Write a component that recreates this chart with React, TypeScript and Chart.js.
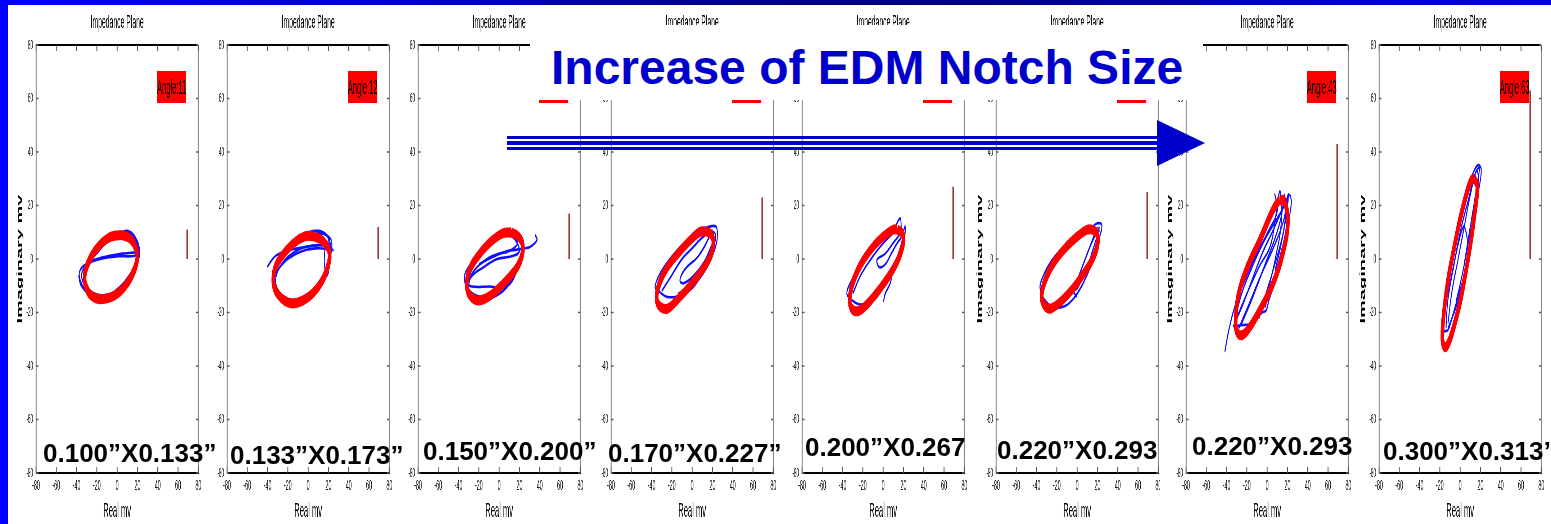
import React, { useEffect, useRef } from 'react';
import { Chart, registerables } from 'chart.js';

Chart.register(...registerables);

const FONT = '"Liberation Sans", Arial, Helvetica, sans-serif';
Chart.defaults.font.family = FONT;

// ---------------- data ----------------
const PANEL_TITLE = 'Impedance Plane';
const X_AXIS_TITLE = 'Real mv';
const Y_AXIS_TITLE = 'Imaginary mv';
const HEADLINE = 'Increase of EDM Notch Size';
const AXIS_MIN = -80;
const AXIS_MAX = 80;
const TICK_STEP = 20;

const ANGLES = [11, 12, 17, 23, 27, 25, 43, 63];
const NOTCH_LABELS = [
  '0.100”X0.133”',
  '0.133”X0.173”',
  '0.150”X0.200”',
  '0.170”X0.227”',
  '0.200”X0.267',
  '0.220”X0.293',
  '0.220”X0.293',
  '0.300”X0.313”',
];
const ANGLE_BOX_X = [39.5, 68];
const ANGLE_BOX_Y = [58.3, 70.3];
const ANGLE_BAR_X = 69;

type Pt = [number, number];

const ELLIPSE_1: Pt[] = [[4, 9], [13, 7.5], [18, 4.5], [20, 1], [17, -4], [9, -9.5], [-2, -13.5], [-16, -15], [-26, -13.5], [-31, -10], [-32, -6], [-28, -1], [-20, 4], [-8, 8], [4, 9]];
const TRACES_1: Pt[][] = [
  [[-2, 9.8], [8, 10], [14.5, 9], [21, 4.6], [22, 1.1], [16, -4.1], [3, -10.3], [-13.5, -14.1], [-30, -12.2], [-36.5, -7.9], [-37, -4.7], [-31.6, -2.2], [-16.8, 0], [0, 1], [16, 1.1], [21, 2]],
  [[-6, 8.5], [4, 10], [15, 8.5], [20, 4], [19, -1], [12, -6], [0, -12], [-14, -15], [-26, -13], [-32, -8], [-28, -2], [-18, 3], [-6, 8.5]],
  [[0, 9], [10, 10.5], [18, 8], [22, 3], [18, -3], [5, -10], [-12, -13.5], [-28, -11.5], [-35, -6.5], [-30, -2], [-15, 0.5], [5, 2], [20, 2.5]],
  [[-38, -6], [-36, -9.5], [-28, -13], [-14, -15], [2, -12], [14, -5], [21, 1], [20, 6], [12, 9.5], [0, 9.5], [-10, 7], [-20, 3]],
];

const ELLIPSE_2: Pt[] = [[6, 8.5], [15, 6.5], [21, 2.5], [20, -2], [14, -8], [4, -13], [-8, -16], [-18, -16.5], [-28, -14], [-34, -9.5], [-33, -4], [-26, 1], [-14, 6], [-3, 8.5], [6, 8.5]];
const TRACES_2: Pt[][] = [
  [[-40.2, -2.9], [-35, 0], [-30.9, 1.5], [-17.8, 3.4], [-1.3, 4.6], [18.5, 5.2], [25, 3.1]],
  [[-3, 8.3], [11.9, 9.6], [21.8, 7.7], [23.4, 4.6], [20.1, -1.6], [11.9, -10.3], [-4.6, -15.3], [-17.8, -16.3], [-30.9, -12.8], [-33.6, -7.9], [-27.6, -2.9], [-11.1, 2.1], [8.6, 4], [23.4, 3.4]],
  [[-4, 9.5], [10, 10.5], [20, 8], [22, 3], [18, -4], [8, -11], [-8, -15], [-24, -14], [-32, -9], [-28, -3], [-12, 3], [5, 5], [22, 5]],
  [[-20, 4], [-6, 7.5], [8, 9], [19, 8.5], [21, 0], [19, -6], [16, -2], [17, 6]],
];

const ELLIPSE_3: Pt[] = [[12, 10], [20, 8], [23.5, 4.5], [21, -0.5], [14, -5], [2, -10], [-10, -14], [-21, -15.5], [-29, -13.5], [-32, -9.5], [-29, -4], [-20, 1.5], [-8, 6.5], [3, 9.5], [12, 10]];
const TRACES_3: Pt[][] = [
  [[6, 10.6], [17.5, 9.6], [24, 5.9], [20, -1], [14, -6.6], [1, -12.8], [-18.7, -14.1], [-31, -11], [-34.3, -7.2], [-31.9, -4.1], [-22, 1], [-8, 6], [6, 10.6]],
  [[-4, 8], [10, 9], [18, 6], [10, 3], [0, 2], [-12, 0], [-24, -4], [-31, -9], [-27, -10.3], [-10, -10.3], [7.6, -10.3], [18, -4], [22, 3]],
  [[-20, -2], [-5, 1], [8, 3], [15.8, 3.4], [25, 4], [30.7, 4.6], [37.3, 7.1], [35.6, 9]],
  [[2, 9], [14, 8], [20, 3], [12, 1], [-2, 0], [-15, -3], [-28, -7], [-30, -12], [-18, -15], [0, -13], [14, -7], [22, 0]],
];

const ELLIPSE_4: Pt[] = [[13, 10.5], [19, 9], [21, 6], [18, 1], [10, -4], [-2, -10], [-14, -15], [-24, -18.5], [-31, -18], [-35, -15], [-33, -10], [-26, -4], [-14, 2], [-2, 7], [7, 10], [13, 10.5]];
const TRACES_4: Pt[][] = [
  [[8, 10.8], [19.5, 12.3], [24.4, 11.5], [24, 6], [16, -2], [6, -8], [-2, -11.6], [-15, -14], [-25, -14.1], [-33, -12], [-36.5, -10.3], [-31.6, -5.4], [-22, 0], [-8, 6], [8, 10.8]],
  [[20, 11], [14, 6], [6, 1], [-7.6, -4.1], [-12, -8], [-8, -9], [2, -6], [12, -1], [18, 4], [22, 8]],
  [[-30, -12], [-20, -6], [-10, 0], [0, 4], [10, 8], [18, 10], [23, 9], [20, 3], [10, -4], [-2, -10], [-14, -13]],
];

const ELLIPSE_5: Pt[] = [[14, 11], [19, 9.5], [20, 6.5], [16, 1], [8, -5], [-4, -11.5], [-16, -17], [-25, -19.5], [-31, -18.5], [-33, -15], [-30, -9], [-22, -2], [-10, 4.5], [2, 9], [10, 11], [14, 11]];
const TRACES_5: Pt[][] = [
  [[10, 10], [16.8, 15.2], [18.5, 9.6], [21.8, 12.1], [20, 6], [12, -2], [2, -9], [-10, -15], [-22, -17], [-32, -15], [-35.8, -12.8], [-32.6, -9.1], [-24, -3], [-12, 3], [0, 8], [10, 10]],
  [[18, 10], [10, 6], [2, 2], [-6.2, -0.4], [-4, -3], [2, -2], [8, 2], [14, 6], [18, 8]],
  [[20, 8], [15, 2], [10, -4], [6.9, -9.1], [2, -13], [0.3, -16]],
  [[-30, -13], [-22, -6], [-12, 0], [-2, 5], [8, 9], [16, 11], [19, 8], [14, 0], [4, -8], [-8, -15], [-20, -17]],
];

const ELLIPSE_6: Pt[] = [[15, 11], [19.5, 9.5], [20.5, 6.5], [17, 1.5], [9, -4], [-3, -10.5], [-15, -15.5], [-26, -18.5], [-32, -17.5], [-35, -14], [-32, -8.5], [-24, -2], [-12, 4], [2, 9], [10, 11], [15, 11]];
const TRACES_6: Pt[][] = [
  [[15, 12], [19.5, 13.3], [24.4, 12.7], [22, 8], [15, -1], [6, -9], [-4, -15], [-15, -18], [-28, -17], [-36.5, -11], [-33, -6], [-24, 0], [-12, 5], [2, 10], [15, 12]],
  [[22, 11], [16, 4], [10, -3], [4, -8], [0, -11], [-3.6, -12.2], [-0.3, -14.1]],
  [[20, 12], [14, 6], [8, 0], [2, -6], [-2, -10], [0, -8], [6, -2], [12, 4], [18, 9], [22, 12]],
];

const ELLIPSE_7: Pt[] = [[12, 22], [17, 21.5], [20.5, 14], [16, 3], [6, -9], [-7, -19], [-18, -26], [-25, -28.5], [-30, -27], [-31, -23], [-28.6, -14], [-20.4, -4], [-7.3, 7], [5.7, 18.3], [12, 22]];
const TRACES_7: Pt[][] = [
  [[-33.5, -25.3], [-25, -18], [-15, -8], [-5, 2], [5, 10], [12, 16], [18, 21], [22.1, 23.9], [23.8, 20.8], [18, 8], [10, -6], [2, -15], [-0.8, -19.1], [-5, -20], [-15, -24], [-23.7, -24.7], [-30, -25]],
  [[-30, -22], [-20, -13], [-8, -3], [4, 6], [12.3, 25.2], [14, 14], [8, 0], [2, -10], [-3, -17]],
  [[-41.7, -34.7], [-38, -27], [-32, -18], [-22, -8], [-10, 2], [2, 11], [10, 18], [7.4, 24.6]],
  [[-28, -26], [-18, -17], [-6, -6], [6, 4], [16, 14], [20, 22], [19, 12], [12, 0], [4, -10], [-2, -18]],
  [[-32, -24], [-26, -14], [-16, -4], [-4, 6], [8, 14], [17, 20], [21, 24], [16, 10], [6, -4], [-2, -14], [-8, -22]],
  [[-26, -25], [-14, -14], [-2, -2], [8, 8], [14, 16], [17, 24], [18, 16], [14, 6], [8, -4]],
];

const ELLIPSE_8: Pt[] = [[14, 30], [17, 27], [14, 16], [10, 5], [5, -6], [0, -16], [-6, -25], [-11, -31], [-15, -33], [-17.5, -30], [-16, -20], [-12, -8], [-6, 4], [0, 15], [6, 24], [11, 29.5], [14, 30]];
const TRACES_8: Pt[][] = [
  [[-18.4, -23.4], [-14, -14], [-9, -4], [-4, 6], [2, 16], [8, 26], [12.6, 32], [17.5, 35.1], [20.8, 33.3], [18, 25], [14, 14], [10, 4], [7.7, 0.9], [4, -6], [-2, -14], [-8, -22], [-11.9, -26.5], [-16, -27]],
  [[-16, -20], [-10, -9], [-4, 2], [3, 12], [6.1, 9.6], [7.7, 3], [6, -3], [2, -10], [-4, -18], [-12, -26]],
  [[-14, -26], [-12, -15], [-6, -2], [0, 10], [8, 22], [15, 32], [19, 34], [16, 26], [10, 12], [4, -2]],
  [[-12, -24], [-8, -12], [-2, 0], [4, 12], [10, 24], [16, 33], [18, 30], [14, 18], [8, 6], [2, -6], [-4, -16]],
];

const ELLIPSES = [ELLIPSE_1, ELLIPSE_2, ELLIPSE_3, ELLIPSE_4, ELLIPSE_5, ELLIPSE_6, ELLIPSE_7, ELLIPSE_8];
const TRACES = [TRACES_1, TRACES_2, TRACES_3, TRACES_4, TRACES_5, TRACES_6, TRACES_7, TRACES_8];

// ---------------- layout (page px) ----------------
const PLOT_LEFT = [36, 227, 418, 611, 802, 996, 1186, 1379];
const CLIP_LEFT = [8, 216, 407, 600, 791, 972, 1160, 1355];
const LABEL_LEFT = [43, 230, 423, 608, 805, 997, 1192, 1383];
const LABEL_CAP_TOP = [443, 445, 441, 443, 437, 440, 436, 441];

const S = 0.36; // horizontal squeeze of the panel images
const CANVAS_W = 590;
const CANVAS_H = 519;
const YAXIS_W = 111;
const PLOT_W = 451;
const PAD_R = CANVAS_W - YAXIS_W - PLOT_W;

const framePlugin = {
  id: 'frame',
  afterDraw(chart: any, _args: any, opts: any) {
    const { ctx, chartArea: a, scales } = chart;
    const x = scales.x;
    const y = scales.y;
    ctx.save();
    ctx.strokeStyle = '#000';
    ctx.lineWidth = 2;
    ctx.beginPath();
    ctx.moveTo(a.left, a.top);
    ctx.lineTo(a.right, a.top);
    ctx.stroke();
    ctx.strokeStyle = '#8a8a8a';
    ctx.lineWidth = 2.8;
    ctx.beginPath();
    ctx.moveTo(a.right, a.top);
    ctx.lineTo(a.right, a.bottom);
    ctx.stroke();
    ctx.strokeStyle = '#555';
    ctx.lineWidth = 2.4;
    x.ticks.forEach((t: any) => {
      const px = x.getPixelForValue(t.value);
      ctx.beginPath();
      ctx.moveTo(px, a.top);
      ctx.lineTo(px, a.top + 6);
      ctx.moveTo(px, a.bottom);
      ctx.lineTo(px, a.bottom - 6);
      ctx.stroke();
    });
    ctx.lineWidth = 1.5;
    y.ticks.forEach((t: any) => {
      const py = y.getPixelForValue(t.value);
      ctx.beginPath();
      ctx.moveTo(a.left, py);
      ctx.lineTo(a.left + 7, py);
      ctx.moveTo(a.right, py);
      ctx.lineTo(a.right - 7, py);
      ctx.stroke();
    });
    const bx0 = x.getPixelForValue(ANGLE_BOX_X[0]);
    const bx1 = x.getPixelForValue(ANGLE_BOX_X[1]);
    const by0 = y.getPixelForValue(ANGLE_BOX_Y[1]);
    const by1 = y.getPixelForValue(ANGLE_BOX_Y[0]);
    ctx.fillStyle = '#ff0000';
    ctx.fillRect(bx0, by0, bx1 - bx0, by1 - by0);
    ctx.fillStyle = '#000';
    ctx.font = `21px ${FONT}`;
    ctx.textAlign = 'center';
    ctx.textBaseline = 'middle';
    ctx.fillText(`Angle:${opts.angle}`, (bx0 + bx1) / 2, (by0 + by1) / 2 + 1);
    ctx.restore();
  },
};

function makeConfig(i: number): any {
  const datasets: any[] = [];
  datasets.push({
    data: ELLIPSES[i].map(([x, y]) => ({ x, y })),
    borderColor: '#ff0000',
    borderWidth: 10,
    tension: 0.4,
    pointRadius: 0,
    fill: false,
  });
  datasets.push({
    data: [{ x: ANGLE_BAR_X, y: 0 }, { x: ANGLE_BAR_X, y: ANGLES[i] }],
    borderColor: '#9b3a3a',
    borderWidth: 4,
    tension: 0,
    pointRadius: 0,
    fill: false,
  });
  TRACES[i].forEach((tr) => {
    datasets.push({
      data: tr.map(([x, y]) => ({ x, y })),
      borderColor: '#1010ff',
      borderWidth: 2.6,
      tension: 0.4,
      pointRadius: 0,
      fill: false,
    });
  });
  return {
    type: 'line',
    data: { datasets },
    plugins: [framePlugin],
    options: {
      responsive: false,
      animation: false,
      devicePixelRatio: 1,
      events: [],
      layout: { padding: { left: 0, right: PAD_R, top: 0, bottom: 0 } },
      plugins: {
        legend: { display: false },
        tooltip: { enabled: false },
        frame: { angle: ANGLES[i] },
        title: {
          display: true,
          text: PANEL_TITLE,
          fullSize: false,
          color: '#000',
          font: { size: 19, lineHeight: 1.2, weight: 'normal' },
          padding: { top: 6.6, bottom: 10.6 },
        },
      },
      scales: {
        x: {
          type: 'linear',
          min: AXIS_MIN,
          max: AXIS_MAX,
          ticks: { stepSize: TICK_STEP, color: '#111', font: { size: 15 }, padding: 4, maxRotation: 0, autoSkip: false },
          grid: { display: false, drawTicks: false },
          border: { display: true, color: '#000', width: 2 },
          title: { display: true, text: X_AXIS_TITLE, color: '#000', font: { size: 21, lineHeight: 1.2 }, padding: { top: 0, bottom: 0 } },
          afterFit: (s: any) => { s.height = 51; },
        },
        y: {
          type: 'linear',
          min: AXIS_MIN,
          max: AXIS_MAX,
          ticks: { stepSize: TICK_STEP, color: '#111', font: { size: 13 }, padding: 8, autoSkip: false },
          grid: { display: false, drawTicks: false },
          border: { display: true, color: '#8a8a8a', width: 2.8 },
          title: { display: true, text: Y_AXIS_TITLE, color: '#000', font: { size: 20, weight: 'bold', lineHeight: 1.2 }, padding: { top: 54.7, bottom: 0 } },
          afterFit: (s: any) => { s.width = YAXIS_W; },
        },
      },
    },
  };
}

function Panel({ idx }: { idx: number }) {
  const ref = useRef<HTMLCanvasElement>(null);
  useEffect(() => {
    const chart = new Chart(ref.current as HTMLCanvasElement, makeConfig(idx));
    return () => chart.destroy();
  }, [idx]);
  const L = PLOT_LEFT[idx];
  const C = CLIP_LEFT[idx];
  return (
    <div
      style={{
        position: 'absolute',
        left: C,
        top: 5,
        width: L + 176 - C,
        height: CANVAS_H,
        overflow: 'hidden',
        background: '#fff',
      }}
    >
      <canvas
        ref={ref}
        width={CANVAS_W}
        height={CANVAS_H}
        style={{
          position: 'absolute',
          left: L - 40 - C,
          top: 0,
          transform: `scaleX(${S})`,
          transformOrigin: '0 0',
        }}
      />
    </div>
  );
}

export default function App() {
  const blue = '#0000cc';
  return (
    <div
      style={{
        position: 'absolute',
        left: 0,
        top: 0,
        width: 1551,
        height: 524,
        overflow: 'hidden',
        background: '#fff',
        fontFamily: FONT,
      }}
    >
      {PLOT_LEFT.map((_, i) => (
        <Panel key={i} idx={i} />
      ))}
      <div
        style={{
          position: 'absolute',
          left: 530,
          top: 25,
          width: 673,
          height: 75,
          background: '#fff',
        }}
      >
        <div
          style={{
            position: 'absolute',
            left: 21,
            top: 19,
            font: `bold 48px/48px ${FONT}`,
            color: blue,
            whiteSpace: 'nowrap',
          }}
        >
          {HEADLINE}
        </div>
      </div>
      <div style={{ position: 'absolute', left: 507, top: 136, width: 652, height: 3, background: blue }} />
      <div style={{ position: 'absolute', left: 507, top: 141, width: 652, height: 4, background: blue }} />
      <div style={{ position: 'absolute', left: 507, top: 147, width: 652, height: 3, background: blue }} />
      <div
        style={{
          position: 'absolute',
          left: 1157,
          top: 120,
          width: 0,
          height: 0,
          borderTop: '23.5px solid transparent',
          borderBottom: '23.5px solid transparent',
          borderLeft: `48px solid ${blue}`,
        }}
      />
      {NOTCH_LABELS.map((t, i) => (
        <div
          key={i}
          style={{
            position: 'absolute',
            left: LABEL_LEFT[i],
            top: LABEL_CAP_TOP[i] - 3.4,
            font: `bold 26px/26px ${FONT}`,
            color: '#000',
            whiteSpace: 'nowrap',
          }}
        >
          {t}
        </div>
      ))}
      <div style={{ position: 'absolute', left: 0, top: 0, width: 8, height: 524, background: '#0000ff' }} />
      <div
        style={{
          position: 'absolute',
          left: 0,
          top: 0,
          width: 1551,
          height: 5,
          background: 'linear-gradient(90deg, #0000ff 0%, #000090 45%, #000080 60%, #0000dd 100%)',
        }}
      />
    </div>
  );
}
